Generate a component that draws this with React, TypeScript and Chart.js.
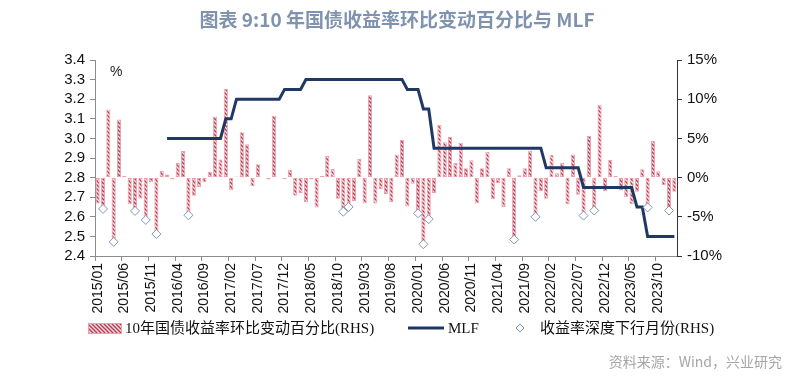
import React, { useEffect, useRef } from 'react';
import { Chart, registerables } from 'chart.js';

Chart.register(...registerables);

// ---- data ----
const START_YEAR = 2015;
const MONTH_COUNT = 109; // 2015/01 .. 2024/01
const months: string[] = [];
for (let i = 0; i < MONTH_COUNT; i++) {
  const y = START_YEAR + Math.floor(i / 12);
  const m = (i % 12) + 1;
  months.push(`${y}/${m < 10 ? '0' + m : m}`);
}

// 10年国债收益率环比变动百分比 (%), RHS
const yieldChangePct: number[] = [
  -3.3, -3.8, 8.7, -8.2, 7.4, 0.2, -3.4, -4.2, -2.65, -5.3, -0.6, -7.1,
  0.85, 0.4, -0.25, 1.85, 3.4, -4.7, -2.3, -1.2, -0.6, 0.75, 7.8, 2.3,
  11.3, -1.6, 0.15, 5.8, 4.25, -1.1, 1.7, -0.05, -0.25, 7.9, 0.05, -0.2,
  1.0, -2.3, -2.0, -3.15, -0.25, -3.8, 0.2, 2.8, 1.1, -2.7, -4.2, -3.75,
  -3.0, 2.4, -3.3, 10.5, -3.3, -1.5, -2.1, -3.1, 2.9, 4.8, -3.7, -0.8,
  -4.5, -8.5, -5.3, -1.95, 6.7, 4.5, 5.2, 1.85, 4.45, 1.2, 2.2, -3.3,
  1.2, 3.3, -2.75, -0.7, -3.75, 1.2, -7.9, 0.3, 1.2, 3.45, -4.8, -1.7,
  -2.7, 2.9, 0.55, 1.9, -3.4, 2.95, -2.2, -4.7, 5.35, -4.1, 9.3, -1.7,
  2.25, 0.2, -1.65, -2.5, -3.4, -1.8, 1.05, -3.65, 4.7, 0.8, -0.95, -4.1,
  -1.8,
];

// MLF (%), LHS
const mlfRate: (number | null)[] = [
  null, null, null, null, null, null, null, null, null, null, null, null,
  null, 3.0, 3.0, 3.0, 3.0, 3.0, 3.0, 3.0, 3.0, 3.0, 3.0, 3.0,
  3.1, 3.1, 3.2, 3.2, 3.2, 3.2, 3.2, 3.2, 3.2, 3.2, 3.2, 3.25,
  3.25, 3.25, 3.25, 3.3, 3.3, 3.3, 3.3, 3.3, 3.3, 3.3, 3.3, 3.3,
  3.3, 3.3, 3.3, 3.3, 3.3, 3.3, 3.3, 3.3, 3.3, 3.3, 3.25, 3.25,
  3.25, 3.15, 3.15, 2.95, 2.95, 2.95, 2.95, 2.95, 2.95, 2.95, 2.95, 2.95,
  2.95, 2.95, 2.95, 2.95, 2.95, 2.95, 2.95, 2.95, 2.95, 2.95, 2.95, 2.95,
  2.85, 2.85, 2.85, 2.85, 2.85, 2.85, 2.85, 2.75, 2.75, 2.75, 2.75, 2.75,
  2.75, 2.75, 2.75, 2.75, 2.75, 2.65, 2.65, 2.5, 2.5, 2.5, 2.5, 2.5,
  2.5,
];

// 收益率深度下行月份 (RHS)
const deepDeclineMonths: string[] = [
  '2015/02', '2015/04', '2015/08', '2015/10', '2015/12', '2016/06',
  '2018/11', '2018/12', '2020/01', '2020/02', '2020/03', '2021/07',
  '2021/11', '2022/08', '2022/10', '2023/08', '2023/12',
];
const deepDeclineValues: number[] = [
  -4.0, -8.2, -4.25, -5.4, -7.2, -4.8,
  -4.35, -3.75, -4.55, -8.5, -5.3, -7.9,
  -5.0, -4.85, -4.2, -3.8, -4.2,
];

const leftTicks = { min: 2.4, max: 3.4, step: 0.1 };
const rightTicks = { min: -10, max: 15, step: 5 };

const TITLE = '图表 9:10 年国债收益率环比变动百分比与 MLF';
const LEGEND_BAR = '10年国债收益率环比变动百分比(RHS)';
const LEGEND_LINE = 'MLF';
const LEGEND_DOT = '收益率深度下行月份(RHS)';
const SOURCE = '资料来源：Wind，兴业研究';

const NAVY = '#1F3864';
const BAR_RED = '#BE3650';
const BAR_PINK = '#EBA0AB';
const BAR_BG = '#F9E0E3';
const DIAMOND = '#8497B0';

function makePattern(ctx: CanvasRenderingContext2D): CanvasPattern | string {
  const pc = document.createElement('canvas');
  pc.width = 4;
  pc.height = 4;
  const g = pc.getContext('2d');
  if (!g) return BAR_PINK;
  g.fillStyle = BAR_BG;
  g.fillRect(0, 0, 4, 4);
  g.strokeStyle = BAR_RED;
  g.lineWidth = 1.4;
  g.beginPath();
  g.moveTo(-1, -1); g.lineTo(5, 5);
  g.moveTo(-1, 3); g.lineTo(1, 5);
  g.moveTo(3, -1); g.lineTo(5, 1);
  g.stroke();
  return ctx.createPattern(pc, 'repeat') || BAR_PINK;
}

export default function App() {
  const ref = useRef<HTMLCanvasElement>(null);

  useEffect(() => {
    const canvas = ref.current;
    if (!canvas) return;
    const ctx = canvas.getContext('2d');
    if (!ctx) return;
    const pattern = makePattern(ctx);

    const diamondData: (number | null)[] = months.map((m) => {
      const k = deepDeclineMonths.indexOf(m);
      return k >= 0 ? deepDeclineValues[k] : null;
    });

    const decor = {
      id: 'decor',
      afterDraw(chart: any) {
        const c: CanvasRenderingContext2D = chart.ctx;
        c.save();
        // title
        c.fillStyle = '#8093AE';
        c.font = 'bold 19px "Noto Sans CJK SC", sans-serif';
        c.textAlign = 'center';
        c.textBaseline = 'middle';
        c.fillText(TITLE, 397, 20);
        // % unit
        c.fillStyle = '#222';
        c.font = '14px "Liberation Sans", Arial, sans-serif';
        c.textAlign = 'left';
        c.fillText('%', 110, 72);
        // legend
        const ly = 328;
        c.fillStyle = pattern as any;
        c.fillRect(88, ly - 5, 34, 11);
        c.strokeStyle = BAR_PINK;
        c.lineWidth = 1;
        c.strokeRect(88.5, ly - 4.5, 33, 10);
        c.fillStyle = '#111';
        c.font = '15px "Liberation Serif", "Noto Sans CJK SC", serif';
        c.textBaseline = 'middle';
        c.fillText(LEGEND_BAR, 125, ly + 1);
        c.strokeStyle = NAVY;
        c.lineWidth = 3;
        c.beginPath();
        c.moveTo(408, ly);
        c.lineTo(444, ly);
        c.stroke();
        c.fillText(LEGEND_LINE, 448, ly + 1);
        c.fillStyle = '#fff';
        c.strokeStyle = DIAMOND;
        c.lineWidth = 1;
        c.beginPath();
        c.moveTo(520, ly - 4);
        c.lineTo(524, ly);
        c.lineTo(520, ly + 4);
        c.lineTo(516, ly);
        c.closePath();
        c.fill();
        c.stroke();
        c.fillStyle = '#111';
        c.fillText(LEGEND_DOT, 540, ly + 1);
        // source
        c.fillStyle = '#A6A6A6';
        c.font = '14px "Noto Sans CJK SC", sans-serif';
        c.textAlign = 'right';
        c.fillText(SOURCE, 782, 362);
        c.restore();
      },
    };

    const chart = new Chart(canvas, {
      type: 'bar',
      data: {
        labels: months,
        datasets: [
          {
            type: 'line',
            label: LEGEND_DOT,
            data: diamondData,
            yAxisID: 'y1',
            showLine: false,
            pointStyle: 'rectRot',
            pointRadius: 4.5,
            pointBackgroundColor: '#ffffff',
            pointBorderColor: DIAMOND,
            pointBorderWidth: 1,
            order: 0,
          } as any,
          {
            type: 'line',
            label: LEGEND_LINE,
            data: mlfRate,
            yAxisID: 'y',
            borderColor: NAVY,
            borderWidth: 3,
            pointRadius: 0,
            tension: 0,
            fill: false,
            order: 1,
          } as any,
          {
            type: 'bar',
            label: LEGEND_BAR,
            data: yieldChangePct,
            yAxisID: 'y1',
            backgroundColor: pattern as any,
            borderColor: BAR_PINK,
            borderWidth: 1,
            borderSkipped: false,
            categoryPercentage: 1,
            barPercentage: 0.78,
            order: 2,
          } as any,
        ],
      },
      options: {
        responsive: false,
        animation: false,
        devicePixelRatio: 1,
        layout: { padding: { top: 60, bottom: 67, left: 0, right: 0 } },
        plugins: {
          legend: { display: false },
          title: { display: false },
          tooltip: { enabled: false },
        },
        scales: {
          x: {
            type: 'category',
            offset: true,
            grid: {
              offset: true,
              drawOnChartArea: false,
              drawTicks: true,
              tickLength: 5,
              color: (c: any) => (c.index % 5 === 0 ? '#8c8c8c' : 'rgba(0,0,0,0)'),
            },
            border: { display: true, color: '#8c8c8c', width: 1 },
            ticks: {
              autoSkip: false,
              minRotation: 90,
              maxRotation: 90,
              padding: 2,
              color: '#111',
              font: { family: '"Liberation Sans", Arial, sans-serif', size: 14 },
              callback: (_v: any, i: number) => (i % 5 === 0 ? months[i] : ''),
            },
            afterFit: (s: any) => { s.height = 60; },
          },
          y: {
            type: 'linear',
            position: 'left',
            min: leftTicks.min,
            max: leftTicks.max,
            grid: { drawOnChartArea: false, drawTicks: true, tickLength: 5, color: '#8c8c8c' },
            border: { display: true, color: '#8c8c8c', width: 1 },
            ticks: {
              stepSize: leftTicks.step,
              autoSkip: false,
              padding: 5,
              color: '#111',
              font: { family: '"Liberation Sans", Arial, sans-serif', size: 15 },
              callback: (v: any) => Number(v).toFixed(1),
            },
            afterFit: (s: any) => { s.width = 95; },
          },
          y1: {
            type: 'linear',
            position: 'right',
            min: rightTicks.min,
            max: rightTicks.max,
            grid: { drawOnChartArea: false, drawTicks: true, tickLength: 5, color: '#333' },
            border: { display: true, color: '#333', width: 1 },
            ticks: {
              stepSize: rightTicks.step,
              autoSkip: false,
              padding: 5,
              color: '#111',
              font: { family: '"Liberation Sans", Arial, sans-serif', size: 15 },
              callback: (v: any) => `${v}%`,
            },
            afterFit: (s: any) => { s.width = 116; },
          },
        },
      },
      plugins: [decor],
    });

    return () => chart.destroy();
  }, []);

  return (
    <div style={{ position: 'fixed', left: 0, top: 0, width: 793, height: 383, background: '#fff' }}>
      <canvas ref={ref} width={793} height={383} style={{ display: 'block', width: 793, height: 383 }} />
    </div>
  );
}
